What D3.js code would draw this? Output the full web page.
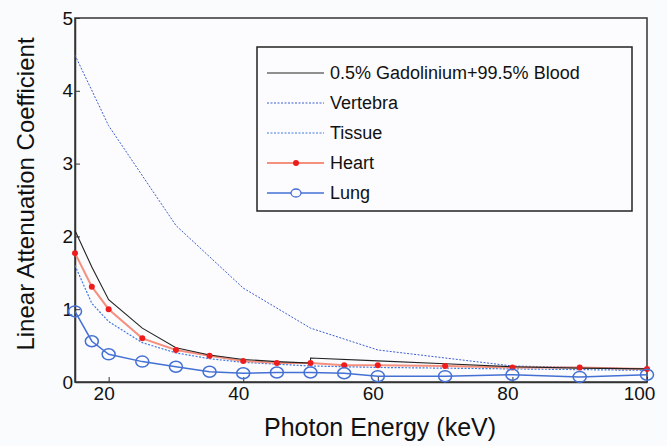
<!DOCTYPE html>
<html>
<head>
<meta charset="utf-8">
<script src="https://cdn.jsdelivr.net/npm/d3@7"></script>
<style>
  body { margin: 0; background: #fafbfd; }
  text { font-family: "Liberation Sans", Arial, sans-serif; fill: #111; }
</style>
</head>
<body>
<script>
// values (keV, 1/cm)
var bloodE = [15, 17.5, 20, 25, 30, 35, 40, 45, 50, 50, 60, 70, 80, 90, 100];
var bloodMu = [2.08, 1.58, 1.13, 0.74, 0.47, 0.37, 0.31, 0.28, 0.26, 0.33, 0.29, 0.25, 0.21, 0.19, 0.18];

var vertebraE = [15, 20, 30, 40, 50, 60, 70, 80, 90, 100];
var vertebraMu = [4.49, 3.52, 2.15, 1.29, 0.74, 0.44, 0.33, 0.22, 0.2, 0.18];

var tissueE = [15, 17.5, 20, 25, 30, 35, 40, 50, 60, 70, 80, 90, 100];
var tissueMu = [1.6, 1.08, 0.83, 0.54, 0.4, 0.32, 0.27, 0.22, 0.2, 0.19, 0.18, 0.17, 0.16];

var heartE = [15, 17.5, 20, 25, 30, 35, 40, 45, 50, 55, 60, 70, 80, 90, 100];
var heartMu = [1.77, 1.31, 1.0, 0.6, 0.44, 0.36, 0.29, 0.26, 0.26, 0.23, 0.23, 0.22, 0.2, 0.2, 0.18];

var lungE = [15, 17.5, 20, 25, 30, 35, 40, 45, 50, 55, 60, 70, 80, 90, 100];
var lungMu = [0.97, 0.56, 0.38, 0.28, 0.21, 0.14, 0.12, 0.13, 0.13, 0.12, 0.08, 0.08, 0.1, 0.07, 0.1];

var xTicks = [20, 40, 60, 80, 100];
var yTicks = [0, 1, 2, 3, 4, 5];
var legendNames = ["0.5% Gadolinium+99.5% Blood", "Vertebra", "Tissue", "Heart", "Lung"];

function pairs(xs, ys) {
    return xs.map(function (x, i) { return [x, ys[i]]; });
}

var svg = d3.select("body")
    .append("svg")
    .attr("width", 667)
    .attr("height", 446);

var x = d3.scaleLinear().domain([15, 100]).range([75, 647]);
var y = d3.scaleLinear().domain([0, 5]).range([382, 18]);

var line = d3.line()
    .x(function (d) { return x(d[0]); })
    .y(function (d) { return y(d[1]); });

// frame
svg.append("rect")
    .attr("x", 75).attr("y", 18)
    .attr("width", 572).attr("height", 364)
    .attr("fill", "#fcfcfe")
    .attr("stroke", "#333")
    .attr("stroke-width", 1.5);

var xAxis = d3.axisBottom(x).tickValues(xTicks).tickFormat(d3.format("d"))
    .tickSizeInner(-5).tickSizeOuter(0).tickPadding(5);
var yAxis = d3.axisLeft(y).tickValues(yTicks).tickFormat(d3.format("d"))
    .tickSizeInner(-5).tickSizeOuter(0).tickPadding(2);

var gx = svg.append("g").attr("transform", "translate(0,382)").call(xAxis);
var gy = svg.append("g").attr("transform", "translate(75,0)").call(yAxis);
[gx, gy].forEach(function (g) {
    g.select(".domain").attr("stroke", "#333").attr("stroke-width", 1.5);
    g.selectAll(".tick line").attr("stroke", "#333");
    g.selectAll(".tick text")
        .style("font-family", "Liberation Sans, Arial, sans-serif")
        .style("font-size", "19px")
        .attr("fill", "#111");
});
// the x labels sit a little left of their ticks in the original
gx.selectAll(".tick text").attr("dx", function (d) { return d === 100 ? -8 : -5; });

// series
var series = [
    {data: pairs(vertebraE, vertebraMu), color: "#3b5fd0", dash: "2,1.5", width: 1},
    {data: pairs(tissueE, tissueMu), color: "#3f78e0", dash: "2,1.5", width: 1.2},
    {data: pairs(heartE, heartMu), color: "#f5907e", dash: null, width: 2},
    {data: pairs(bloodE, bloodMu), color: "#222", dash: null, width: 1.1},
    {data: pairs(lungE, lungMu), color: "#4470d4", dash: null, width: 1.5}
];

series.forEach(function (s) {
    svg.append("path")
        .datum(s.data)
        .attr("d", line)
        .attr("fill", "none")
        .attr("stroke", s.color)
        .attr("stroke-width", s.width)
        .attr("stroke-dasharray", s.dash);
});

svg.selectAll("circle.heart")
    .data(pairs(heartE, heartMu))
    .enter()
    .append("circle")
    .attr("class", "heart")
    .attr("cx", function (d) { return x(d[0]); })
    .attr("cy", function (d) { return y(d[1]); })
    .attr("r", 3)
    .attr("fill", "#ee1c1c");

svg.selectAll("ellipse.lung")
    .data(pairs(lungE, lungMu))
    .enter()
    .append("ellipse")
    .attr("class", "lung")
    .attr("cx", function (d) { return x(d[0]); })
    .attr("cy", function (d) { return y(d[1]); })
    .attr("rx", 6.5)
    .attr("ry", 5.5)
    .attr("fill", "none")
    .attr("stroke", "#4470d4")
    .attr("stroke-width", 1.5);

// legend
var legend = svg.append("g").attr("transform", "translate(257,47)");
legend.append("rect")
    .attr("width", 375).attr("height", 164)
    .attr("fill", "#fcfcfe")
    .attr("stroke", "#222")
    .attr("stroke-width", 1.5);

var legendStyle = [
    {color: "#222", dash: null, width: 1.1},
    {color: "#3b5fd0", dash: "2,1.5", width: 1},
    {color: "#3f78e0", dash: "2,1.5", width: 1.2},
    {color: "#f5907e", dash: null, width: 2},
    {color: "#4470d4", dash: null, width: 1.5}
];

legendNames.forEach(function (name, i) {
    var row = legend.append("g").attr("transform", "translate(0," + (26 + i * 30) + ")");
    var st = legendStyle[i];
    row.append("line")
        .attr("x1", 10).attr("x2", 67)
        .attr("stroke", st.color)
        .attr("stroke-width", st.width)
        .attr("stroke-dasharray", st.dash);
    if (i === 3) {
        row.append("circle").attr("cx", 39).attr("r", 3).attr("fill", "#ee1c1c");
    }
    if (i === 4) {
        row.append("ellipse").attr("cx", 39).attr("rx", 5).attr("ry", 4)
            .attr("fill", "#fcfcfe").attr("stroke", "#4470d4").attr("stroke-width", 1.3);
    }
    row.append("text")
        .attr("x", 73)
        .attr("y", 6)
        .style("font-size", "18px")
        .text(name);
});

// axis titles
svg.append("text")
    .attr("transform", "translate(34,194) rotate(-90)")
    .style("text-anchor", "middle")
    .style("font-size", "24px")
    .text("Linear Attenuation Coefficient");

svg.append("text")
    .attr("transform", "translate(380,436)")
    .style("text-anchor", "middle")
    .style("font-size", "25px")
    .text("Photon Energy (keV)");
</script>
</body>
</html>
